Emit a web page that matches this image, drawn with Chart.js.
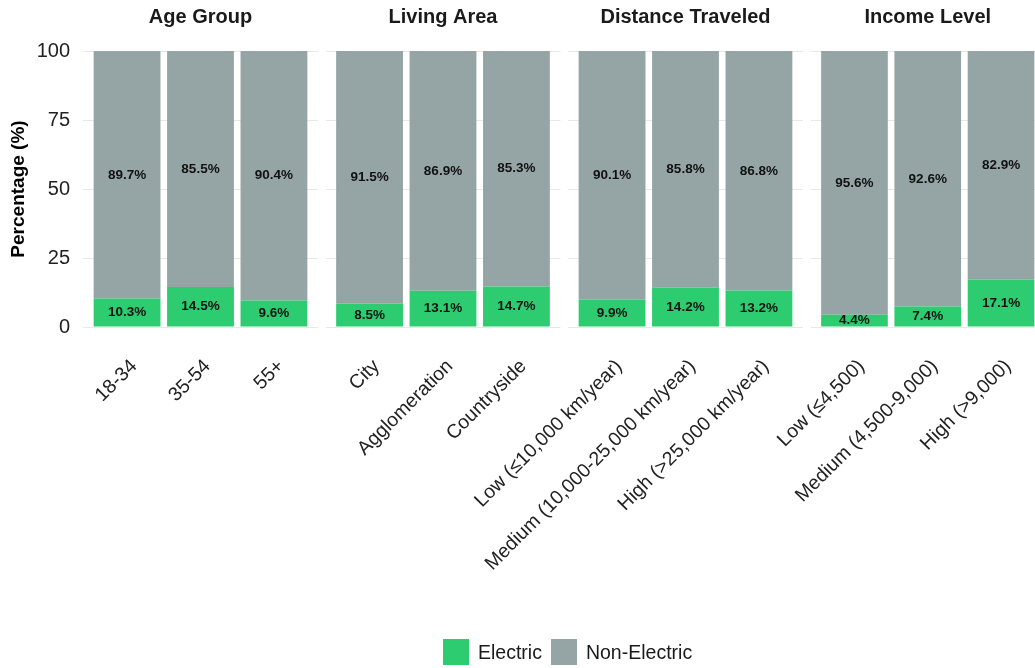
<!DOCTYPE html>
<html>
<head>
<meta charset="utf-8">
<script src="https://cdn.jsdelivr.net/npm/chart.js@4"></script>
<style>
  body { margin: 0; background: #fff; }
  #wrap { position: relative; width: 1035px; height: 668px; overflow: hidden; font-family: "Liberation Sans", Arial, sans-serif; }
  #wrap canvas { position: absolute; left: 0; top: 0; }
  #legend { position: absolute; top: 639px; left: 443px; display: flex; align-items: center; font-size: 19.5px; color: #1a1a1a; }
  #legend .sw { width: 26px; height: 26px; margin-right: 9px; }
  #legend .item { display: flex; align-items: center; margin-right: 9px; }
</style>
</head>
<body>
<div id="wrap">
  <canvas id="c0" width="1045" height="668"></canvas>
  <canvas id="c1" width="1045" height="668"></canvas>
  <canvas id="c2" width="1045" height="668"></canvas>
  <canvas id="c3" width="1045" height="668"></canvas>
  <div id="legend"></div>
</div>
<script>
// facet titles and bar labels
const groups = ["Age Group", "Living Area", "Distance Traveled", "Income Level"];
const ageLabels = ["18-34", "35-54", "55+"];
const areaLabels = ["City", "Agglomeration", "Countryside"];
const distanceLabels = ["Low (≤10,000 km/year)", "Medium (10,000-25,000 km/year)", "High (>25,000 km/year)"];
const incomeLabels = ["Low (≤4,500)", "Medium (4,500-9,000)", "High (>9,000)"];

// shares in percent
const electricAge = [10.3, 14.5, 9.6];
const nonElectricAge = [89.7, 85.5, 90.4];
const electricArea = [8.5, 13.1, 14.7];
const nonElectricArea = [91.5, 86.9, 85.3];
const electricDistance = [9.9, 14.2, 13.2];
const nonElectricDistance = [90.1, 85.8, 86.8];
const electricIncome = [4.4, 7.4, 17.1];
const nonElectricIncome = [95.6, 92.6, 82.9];

const yTicks = [0, 25, 50, 75, 100];
const seriesNames = ["Electric", "Non-Electric"];
const seriesColors = ["#2ecc71", "#95a5a6"];

const panels = [
  { labels: ageLabels, electric: electricAge, nonElectric: nonElectricAge },
  { labels: areaLabels, electric: electricArea, nonElectric: nonElectricArea },
  { labels: distanceLabels, electric: electricDistance, nonElectric: nonElectricDistance },
  { labels: incomeLabels, electric: electricIncome, nonElectric: nonElectricIncome },
];

const FONT = "'Liberation Sans', Arial, sans-serif";
Chart.defaults.font.family = FONT;

// percentages printed in the middle of each segment
const valueLabels = {
  id: "valueLabels",
  afterDatasetsDraw(chart) {
    const ctx = chart.ctx;
    ctx.save();
    ctx.font = "bold 13.5px " + FONT;
    ctx.fillStyle = "#111";
    ctx.textAlign = "center";
    ctx.textBaseline = "middle";
    chart.data.datasets.forEach((ds, i) => {
      chart.getDatasetMeta(i).data.forEach((bar, j) => {
        ctx.fillText(ds.data[j].y.toFixed(1) + "%", bar.x, (bar.y + bar.base) / 2);
      });
    });
    ctx.restore();
  },
};

const PANEL_W = 235;
const CANVAS_W = 1045;
const LABEL_SHIFT = 0.095; // rotated labels sit a little right of the bar centre

panels.forEach((p, k) => {
  const first = k === 0;
  const left = 83 + k * 242.5;
  const right = left + PANEL_W;
  const idx = p.labels.map((_, i) => i);

  new Chart(document.getElementById("c" + k), {
    type: "bar",
    data: {
      datasets: [
        {
          label: seriesNames[0],
          data: idx.map((i) => ({ x: i, y: p.electric[i] })),
          backgroundColor: seriesColors[0],
        },
        {
          label: seriesNames[1],
          data: idx.map((i) => ({ x: i, y: p.nonElectric[i] })),
          backgroundColor: seriesColors[1],
        },
      ],
    },
    options: {
      responsive: false,
      animation: false,
      barPercentage: 0.91,
      categoryPercentage: 1,
      layout: { padding: { left: first ? 0 : left, right: CANVAS_W - right, top: 0, bottom: 0 } },
      plugins: {
        legend: { display: false },
        tooltip: { enabled: false },
        title: {
          display: true,
          text: groups[k],
          fullSize: false,
          color: "#1a1a1a",
          font: { size: 20, weight: "bold" },
          padding: { top: 5, bottom: 22 },
        },
      },
      scales: {
        x: {
          type: "linear",
          offset: false,
          stacked: true,
          min: -0.6,
          max: 2.6,
          afterBuildTicks: (s) => { s.ticks = idx.map((v) => ({ value: v + LABEL_SHIFT })); },
          grid: { display: false },
          border: { display: false },
          ticks: {
            autoSkip: false,
            minRotation: 45,
            maxRotation: 45,
            padding: 20,
            color: "#222",
            font: { size: 19.5 },
            callback: (v, i) => p.labels[i],
          },
          afterFit: (s) => { s.height = 341; },
        },
        y: {
          stacked: true,
          min: 0,
          max: 100,
          afterBuildTicks: (s) => { s.ticks = yTicks.map((v) => ({ value: v })); },
          grid: { color: "#e8e8e8", lineWidth: 1, drawTicks: false },
          border: { display: false },
          ticks: { display: first, padding: 13, color: "#222", font: { size: 20 } },
          title: {
            display: first,
            text: "Percentage (%)",
            color: "#000",
            font: { size: 19, weight: "bold" },
            padding: { top: 7, bottom: 0 },
          },
          afterFit: (s) => { s.width = first ? 83 : 0; },
        },
      },
    },
    plugins: [valueLabels],
  });
});

// shared legend under the panels
const legend = document.getElementById("legend");
seriesNames.forEach((name, i) => {
  const item = document.createElement("div");
  item.className = "item";
  const sw = document.createElement("div");
  sw.className = "sw";
  sw.style.background = seriesColors[i];
  const txt = document.createElement("span");
  txt.textContent = name;
  item.appendChild(sw);
  item.appendChild(txt);
  legend.appendChild(item);
});
</script>
</body>
</html>
